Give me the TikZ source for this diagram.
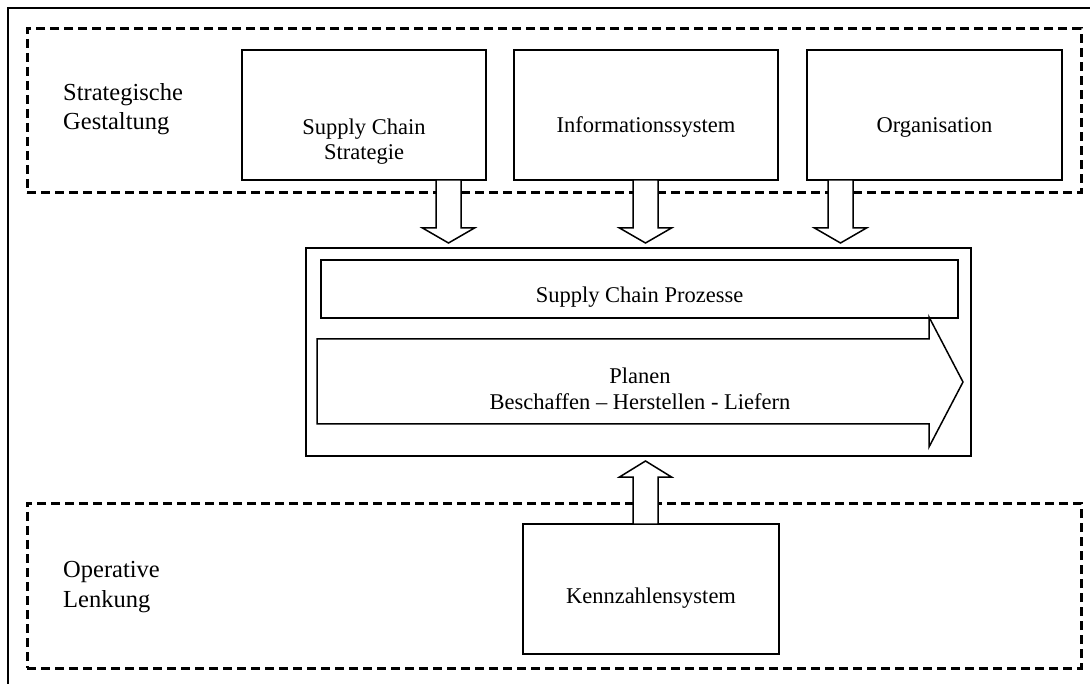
\documentclass[tikz,border=0pt]{standalone}
\usepackage{fontspec}
\setmainfont{Liberation Serif}
\usetikzlibrary{calc}

\tikzset{
  frame/.style={line width=1.4pt},
  zone/.style={draw, line width=3pt, dash pattern=on 9pt off 5pt, inner sep=0pt},
  box/.style={draw, line width=1.5pt, fill=white, inner sep=0pt},
  barrow/.style={draw, line width=1.5pt, fill=white, line join=miter},
  procarrow/.style={draw, line width=1.5pt, line join=miter},
  txt/.style={inner sep=0pt, align=center, font=\fontsize{22.5}{25}\selectfont},
  lab/.style={inner sep=0pt, align=left, font=\fontsize{24.5}{29.5}\selectfont},
}

% vertical block arrow: tail, tip, signed head length
\newcommand\blockarrow[3]{%
  \path[barrow] let \p1=(#1), \p2=(#2) in
    ({\x1-12.5pt},\y1) -- ({\x1-12.5pt},{\y2+#3}) -- ({\x1-26pt},{\y2+#3}) --
    (\x2,\y2) -- ({\x1+26pt},{\y2+#3}) -- ({\x1+12.5pt},{\y2+#3}) --
    ({\x1+12.5pt},\y1) -- cycle;}

\begin{document}
\begin{tikzpicture}[x=1pt,y=-1pt]
  \useasboundingbox (0,0) rectangle (1090,684);

  % outer frame, running off the page on the right and at the bottom
  \begin{scope}
    \clip (0,0) rectangle (1090,684);
    \draw[frame] (8,8) rectangle (1100,700);
  \end{scope}

  % the two dashed zones
  \node[zone, minimum width=1054pt, minimum height=164pt] (upper) at (554,111) {};
  \node[zone, minimum width=1054pt, minimum height=165pt] (lower) at (554,585.5) {};

  % strategic building blocks
  \node[box, minimum width=244pt, minimum height=130pt] (strat) at (364,115) {};
  \node[box, minimum width=264pt, minimum height=130pt] (info) at (646,115) {};
  \node[box, minimum width=255pt, minimum height=130pt] (org) at (934.5,115) {};

  % process block
  \node[box, minimum width=665pt, minimum height=208pt] (mid) at (638.5,352) {};
  \node[box, minimum width=637pt, minimum height=58pt] (scp) at (639.5,289) {};
  \draw[procarrow] (317,339) -- (929,339) -- (929,317) -- (963,382)
    -- (929,447) -- (929,424) -- (317,424) -- cycle;

  % operative block
  \node[box, minimum width=256pt, minimum height=130pt] (kpi) at (651,589) {};

  % arrow ends
  \coordinate (s1) at (448.5,180);  \coordinate (e1) at (448.5,243);
  \coordinate (s2) at (645.5,180);  \coordinate (e2) at (645.5,243);
  \coordinate (s3) at (840.5,180);  \coordinate (e3) at (840.5,243);
  \coordinate (s4) at (645.5,524);  \coordinate (e4) at (645.5,461);

  \blockarrow{s1}{e1}{15pt}
  \blockarrow{s2}{e2}{15pt}
  \blockarrow{s3}{e3}{15pt}
  \blockarrow{s4}{e4}{-16pt}

  % texts (base anchor sits on the last line)
  \node[lab, anchor=base west] (lstrat) at (63,130) {Strategische\\Gestaltung};
  \node[lab, anchor=base west] (lop) at (63,607) {Operative\\Lenkung};
  \node[txt, anchor=base] (tstrat) at (364,160) {Supply Chain\\Strategie};
  \node[txt, anchor=base] (tinfo) at (646,133) {Informationssystem};
  \node[txt, anchor=base] (torg) at (934.5,133) {Organisation};
  \node[txt, anchor=base] (tscp) at (639.5,303) {Supply Chain Prozesse};
  \node[txt, anchor=base, font=\fontsize{22.5}{27}\selectfont] (tproc) at (640,410)
    {Planen\\Beschaffen – Herstellen - Liefern};
  \node[txt, anchor=base] (tkpi) at (651,603) {Kennzahlensystem};
\end{tikzpicture}
\end{document}
